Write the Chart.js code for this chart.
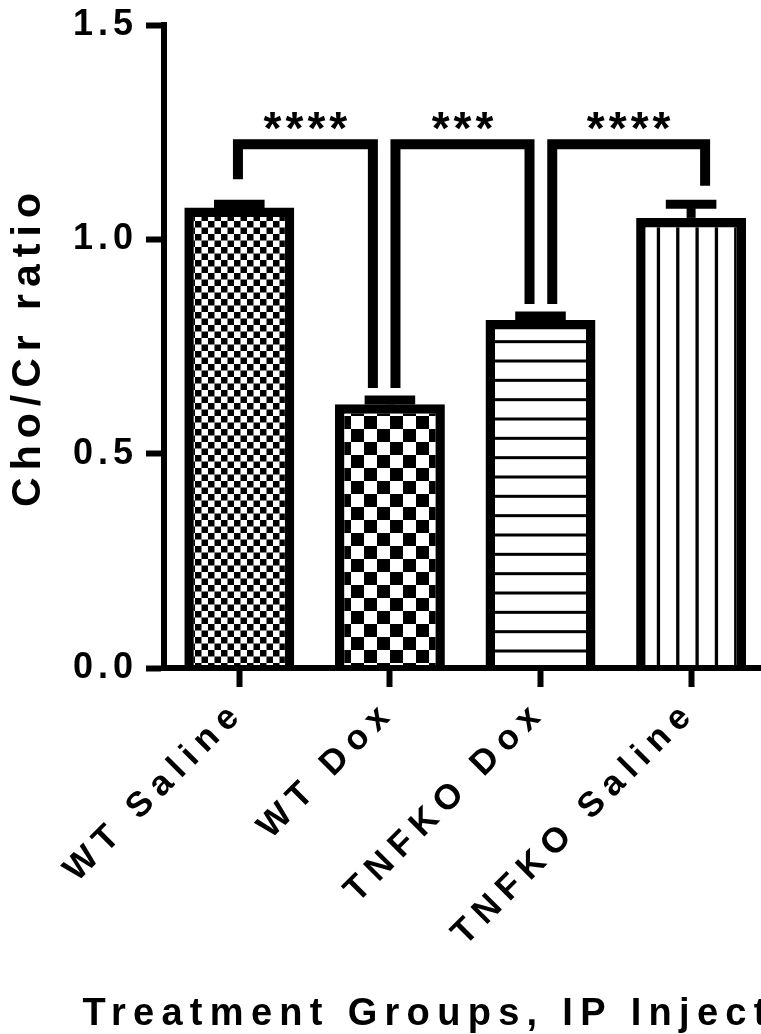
<!DOCTYPE html>
<html>
<head>
<meta charset="utf-8">
<script src="https://cdn.jsdelivr.net/npm/chart.js@4.4.1/dist/chart.umd.min.js"></script>
<style>
  html, body { margin: 0; padding: 0; background: #fff; overflow: hidden; width: 761px; height: 1034px; }
  #wrap { width: 800px; height: 1034px; }
  canvas { display: block; }
</style>
</head>
<body>
<div id="wrap"><canvas id="c" width="800" height="1034"></canvas></div>
<script>
// ---- data ----
const groups = ['WT Saline', 'WT Dox', 'TNFKO Dox', 'TNFKO Saline'];
const ratioMean = [1.074, 0.615, 0.812, 1.050];
const ratioSem = [0.008, 0.010, 0.009, 0.032];
const yTickLabels = ['0.0', '0.5', '1.0', '1.5'];
const comparisons = [[0, 1], [1, 2], [2, 3]];
const significance = ['****', '***', '****'];
const yTitle = 'Cho/Cr ratio';
const xTitle = 'Treatment Groups, IP Injection';

const FONT = '"Liberation Sans", Arial, Helvetica, sans-serif';

// ---- fill patterns (black on white) ----
function makeTile(size, paint) {
  const c = document.createElement('canvas');
  c.width = c.height = size;
  const g = c.getContext('2d');
  g.fillStyle = '#fff';
  g.fillRect(0, 0, size, size);
  g.fillStyle = '#000';
  paint(g, size);
  return c;
}
const ctx = document.getElementById('c').getContext('2d');
const fineChecker = ctx.createPattern(makeTile(13, g => {
  g.fillRect(0, 0, 6.5, 6.5); g.fillRect(6.5, 6.5, 6.5, 6.5);
}), 'repeat');
const coarseChecker = ctx.createPattern(makeTile(26, g => {
  g.fillRect(0, 0, 13, 13); g.fillRect(13, 13, 13, 13);
}), 'repeat');
const horizontalLines = ctx.createPattern(makeTile(58, (g, s) => {
  [13, 32.33, 51.67].forEach(c => g.fillRect(0, c - 1.5, s, 3));
}), 'repeat');
const verticalLines = ctx.createPattern(makeTile(58, (g, s) => {
  [1.1, 20.43, 39.77, 59.1].forEach(c => g.fillRect(c - 1.65, 0, 3.3, s));
}), 'repeat');

// ---- letter spacing for axis text ----
const axisSpacing = { x: { labels: '8px' }, y: { labels: '5px', title: '7px' } };
const spacingPlugin = {
  id: 'spacing',
  beforeDraw(chart) {
    Object.values(chart.scales).forEach(s => {
      if (s.__spaced) return;
      s.__spaced = true;
      const conf = axisSpacing[s.id] || {};
      const wrap = (name, sp) => {
        const orig = s[name].bind(s);
        s[name] = function (...args) {
          const c = chart.ctx;
          c.save();
          c.letterSpacing = sp || '0px';
          orig(...args);
          c.restore();
        };
      };
      wrap('drawLabels', conf.labels);
      wrap('drawTitle', conf.title);
    });
  }
};

// ---- error bars (upper SEM) ----
const errorBarPlugin = {
  id: 'errorBars',
  afterDatasetsDraw(chart) {
    const c = chart.ctx, y = chart.scales.y;
    const meta = chart.getDatasetMeta(0);
    c.save();
    c.strokeStyle = '#000';
    c.lineWidth = 9;
    c.lineCap = 'butt';
    meta.data.forEach((bar, i) => {
      const top = y.getPixelForValue(ratioMean[i] + ratioSem[i]);
      const base = y.getPixelForValue(ratioMean[i]);
      const half = bar.width * 0.23;
      c.beginPath();
      c.moveTo(bar.x, base);
      c.lineTo(bar.x, top);
      c.stroke();
      c.beginPath();
      c.moveTo(bar.x - half, top);
      c.lineTo(bar.x + half, top);
      c.stroke();
    });
    c.restore();
  }
};

// ---- significance brackets ----
const bracketPlugin = {
  id: 'brackets',
  afterDatasetsDraw(chart, args, opts) {
    const c = chart.ctx, x = chart.scales.x, y = chart.scales.y;
    const yTop = y.getPixelForValue(opts.level);
    c.save();
    c.strokeStyle = '#000';
    c.fillStyle = '#000';
    c.lineWidth = opts.lineWidth;
    c.lineJoin = 'miter';
    c.lineCap = 'butt';
    comparisons.forEach(([a, b], k) => {
      const xa = x.getPixelForValue(a + opts.shift[k][0]);
      const xb = x.getPixelForValue(b + opts.shift[k][1]);
      c.beginPath();
      c.moveTo(xa, y.getPixelForValue(opts.legs[k][0]));
      c.lineTo(xa, yTop);
      c.lineTo(xb, yTop);
      c.lineTo(xb, y.getPixelForValue(opts.legs[k][1]));
      c.stroke();
      c.font = 'bold ' + opts.starSize + 'px ' + FONT;
      c.letterSpacing = opts.starSpacing + 'px';
      c.textAlign = 'center';
      c.textBaseline = 'alphabetic';
      c.fillText(significance[k], (xa + xb) / 2 + opts.starSpacing / 2, yTop - opts.starGap);
    });
    c.restore();
  }
};

// ---- x axis title ----
const xTitlePlugin = {
  id: 'xTitle',
  afterDraw(chart, args, opts) {
    const c = chart.ctx;
    c.save();
    c.font = 'bold ' + opts.size + 'px ' + FONT;
    c.letterSpacing = opts.spacing + 'px';
    c.fillStyle = '#000';
    c.textAlign = 'left';
    c.textBaseline = 'alphabetic';
    c.fillText(xTitle, opts.x, opts.y);
    c.restore();
  }
};

new Chart(ctx, {
  type: 'bar',
  data: {
    labels: groups,
    datasets: [{
      data: ratioMean,
      backgroundColor: [fineChecker, coarseChecker, horizontalLines, verticalLines],
      borderColor: '#000',
      borderWidth: 9.5,
      borderSkipped: 'start',
      categoryPercentage: 1,
      barPercentage: 0.73
    }]
  },
  options: {
    responsive: false,
    animation: false,
    devicePixelRatio: 1,
    layout: { padding: { left: 0, top: 25, right: 33.6, bottom: 0 } },
    plugins: {
      legend: { display: false },
      tooltip: { enabled: false },
      brackets: {
        level: 1.222,
        legs: [[1.14, 0.653], [0.653, 0.849], [0.849, 1.125]],
        shift: [[-0.009, -0.113], [0.037, -0.073], [0.078, 0.093]],
        lineWidth: 10,
        starSize: 46,
        starSpacing: 4,
        starGap: 0
      },
      xTitle: { x: 82.5, y: 1025, size: 38, spacing: 7.3 }
    },
    scales: {
      x: {
        grid: { offset: false, drawOnChartArea: false, tickLength: 19, tickWidth: 6, tickColor: '#000' },
        border: { display: true, width: 6, color: '#000', z: 1 },
        ticks: {
          minRotation: 45, maxRotation: 45, autoSkip: false, padding: 5,
          color: '#000', font: { family: FONT, size: 35, weight: 'bold' }
        },
        afterFit(s) { s.height = 366; s.paddingLeft = 0; s.paddingRight = 0; }
      },
      y: {
        min: 0, max: 1.5,
        grid: { drawOnChartArea: false, tickLength: 18, tickWidth: 6, tickColor: '#000' },
        border: { display: true, width: 6, color: '#000', z: 1 },
        ticks: {
          stepSize: 0.5, padding: 8, color: '#000',
          font: { family: FONT, size: 36, weight: 'bold' },
          callback: v => yTickLabels[Math.round(v / 0.5)]
        },
        title: {
          display: true, text: yTitle, color: '#000',
          font: { family: FONT, size: 41, weight: 'bold' },
          padding: { top: 4, bottom: 0 }
        },
        afterFit(s) { s.width = 164; s.paddingTop = 0; s.paddingBottom = 0; }
      }
    }
  },
  plugins: [spacingPlugin, errorBarPlugin, bracketPlugin, xTitlePlugin]
});
</script>
</body>
</html>
